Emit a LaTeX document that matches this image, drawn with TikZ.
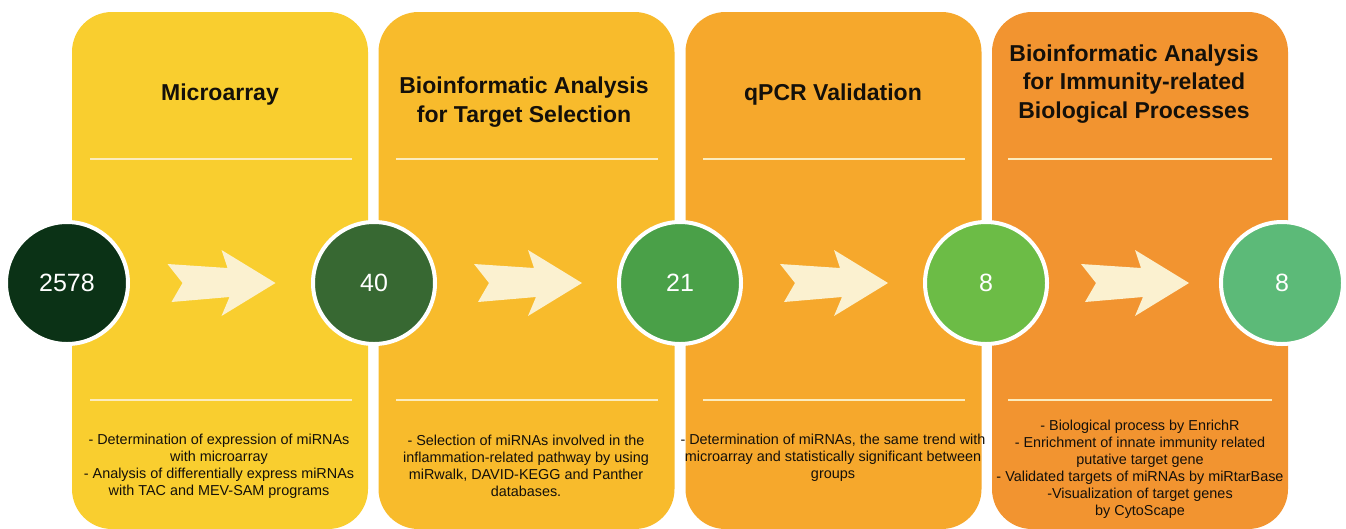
\documentclass[tikz,border=0pt]{standalone}
\usepackage{fontspec}
\setmainfont{Liberation Sans}
\usetikzlibrary{calc}

\definecolor{panelA}{RGB}{249,206,47}
\definecolor{panelB}{RGB}{248,187,44}
\definecolor{panelC}{RGB}{246,168,44}
\definecolor{panelD}{RGB}{242,148,48}
\definecolor{greenA}{RGB}{11,50,22}
\definecolor{greenB}{RGB}{55,104,50}
\definecolor{greenC}{RGB}{74,160,72}
\definecolor{greenD}{RGB}{108,188,70}
\definecolor{greenE}{RGB}{92,186,120}
\definecolor{cream}{RGB}{251,241,208}
\definecolor{lineCream}{RGB}{252,236,190}
\definecolor{ink}{RGB}{20,16,10}

\tikzset{
	panel/.style={rounded corners=40pt, minimum width=296pt, minimum height=517pt, inner sep=0pt},
	count/.style={circle, draw=white, line width=4pt, minimum size=122pt, inner sep=0pt, text=white, font=\fontsize{25}{25}\selectfont},
	title/.style={align=center, text=ink, font=\bfseries\fontsize{23}{28.5}\selectfont},
	body/.style={align=center, text=ink, font=\fontsize{14.4}{17}\selectfont},
	sepline/.style={draw=lineCream, line width=2pt},
	arrowfill/.style={fill=cream}
}

% notched block arrow, centred at #1
\newcommand{\stepArrow}[1]{\fill[arrowfill,shift={(#1)}] (-53,-19) -- (-38,0) -- (-49,19) -- (9,14) -- (1,33) -- (55,0) -- (1,-33) -- (7,-15) -- cycle;}

\begin{document}
\begin{tikzpicture}[x=1pt,y=-1pt]
		\useasboundingbox (0,0) rectangle (1346,528);
		\fill[white] (0,0) rectangle (1346,528);

		\node[panel,fill=panelA] (p1) at (220,270.5) {};
		\node[panel,fill=panelB] (p2) at (526.5,270.5) {};
		\node[panel,fill=panelC] (p3) at (833.5,270.5) {};
		\node[panel,fill=panelD] (p4) at (1140,270.5) {};

		\draw[sepline] (90,159) -- (352,159);
		\draw[sepline] (90,400) -- (352,400);
		\draw[sepline] (396,159) -- (658,159);
		\draw[sepline] (396,400) -- (658,400);
		\draw[sepline] (703,159) -- (965,159);
		\draw[sepline] (703,400) -- (965,400);
		\draw[sepline] (1008,159) -- (1272,159);
		\draw[sepline] (1008,400) -- (1272,400);

		\node[title] (t1) at (220,95) {Microarray};
		\node[title] (t2) at (524,102) {Bioinformatic Analysis\\for Target Selection};
		\node[title] (t3) at (833,95) {qPCR Validation};
		\node[title] (t4) at (1134,84) {Bioinformatic Analysis\\for Immunity-related\\Biological Processes};

		\node[body] (b1) at (219,466) {- Determination of expression of miRNAs\\with microarray\\- Analysis of differentially express miRNAs\\with TAC and MEV-SAM programs};
		\node[body] (b2) at (526,466) {- Selection of miRNAs involved in the\\inflammation-related pathway by using\\miRwalk, DAVID-KEGG and Panther\\databases.};
		\node[body] (b3) at (833,458) {- Determination of miRNAs, the same trend with\\microarray and statistically significant between\\groups};
		\node[body] (b4) at (1140,469) {- Biological process by EnrichR\\- Enrichment of innate immunity related\\putative target gene\\- Validated targets of miRNAs by miRtarBase\\-Visualization of target genes\\by CytoScape};

		\node[count,fill=greenA] (c1) at (67,283) {2578};
		\node[count,fill=greenB] (c2) at (374,283) {40};
		\node[count,fill=greenC] (c3) at (680,283) {21};
		\node[count,fill=greenD] (c4) at (986,283) {8};
		\node[count,fill=greenE] (c5) at (1282,283) {8};

		\stepArrow{$(c1)!0.5!(c2)$}
		\stepArrow{$(c2)!0.5!(c3)$}
		\stepArrow{$(c3)!0.5!(c4)$}
		\stepArrow{$(c4)!0.5!(c5)$}
	\end{tikzpicture}
\end{document}
